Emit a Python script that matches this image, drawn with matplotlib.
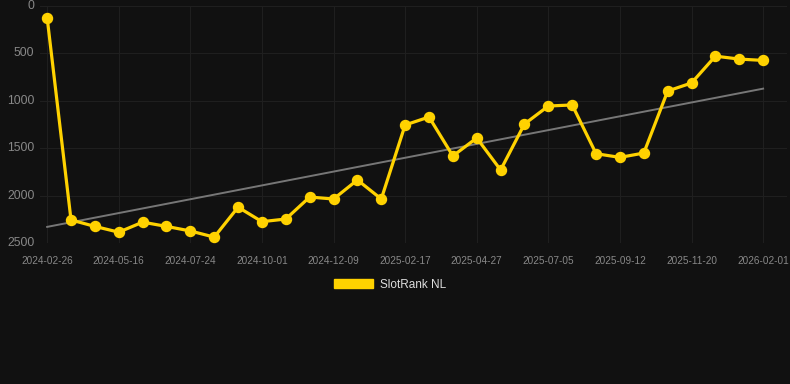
import numpy as np
import matplotlib
matplotlib.use("Agg")
import matplotlib.pyplot as plt
from matplotlib.patches import Patch

# --- data ---
tick_labels = ["2024-02-26", "2024-05-16", "2024-07-24", "2024-10-01", "2024-12-09",
               "2025-02-17", "2025-04-27", "2025-07-05", "2025-09-12", "2025-11-20",
               "2026-02-01"]
rank = [125, 2257, 2325, 2386, 2280, 2325, 2373, 2438, 2122, 2275, 2247,
        2015, 2036, 1835, 2036, 1255, 1171, 1582, 1392, 1730, 1245,
        1055, 1044, 1558, 1597, 1551, 897, 812, 529, 560, 574]
series_name = "SlotRank NL"

BG = "#111111"
YELLOW = "#FFD200"
GRID = "#1f1f1f"
TICK = "#888888"

plt.rcParams['font.family'] = ['Liberation Sans', 'DejaVu Sans']

x = np.arange(len(rank))
# trend line = least squares fit of the series
k, b = np.polyfit(x, rank, 1)
trend = k * x + b

fig = plt.figure(figsize=(7.9, 3.84), dpi=100, facecolor=BG)
ax = fig.add_axes([40 / 790, 1 - 243 / 384, 747 / 790, 237 / 384], facecolor=BG)

ax.plot(x, trend, color="#777777", lw=1.4, zorder=2)
ax.plot(x, rank, color=YELLOW, lw=2.3, marker="o", ms=7.2, zorder=3)

ax.set_ylim(2500, 0)
ax.set_xlim(-0.3, 31.0)
ax.set_yticks([0, 500, 1000, 1500, 2000, 2500])
ax.set_xticks(x[::3])
ax.set_xticklabels(tick_labels)
ax.grid(True, color=GRID, lw=0.8)
ax.set_axisbelow(True)
for s in ax.spines.values():
    s.set_visible(False)
ax.tick_params(axis="y", length=0, colors=TICK, labelsize=8.7, pad=4)
ax.tick_params(axis="x", length=0, colors=TICK, labelsize=7.2, pad=9)
for lbl in ax.get_yticklabels():
    lbl.set_verticalalignment("center")

leg = fig.legend(handles=[Patch(facecolor=YELLOW, edgecolor=YELLOW)], labels=[series_name],
                 loc="center", bbox_to_anchor=(390 / 790, 1 - 285 / 384), frameon=False,
                 fontsize=8.5, labelcolor="#dddddd", handlelength=3.3, handleheight=0.8,
                 handletextpad=0.6)

fig.savefig("out.png", dpi=100, facecolor=BG)
